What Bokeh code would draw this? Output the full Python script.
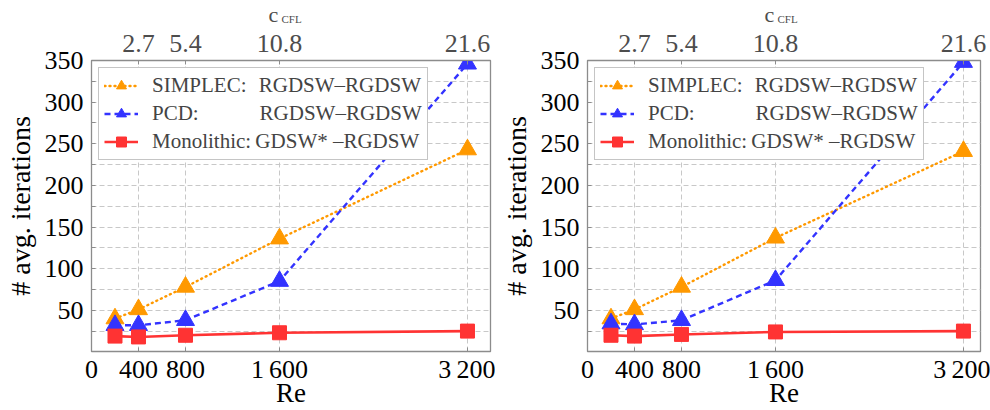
from bokeh.plotting import figure
from bokeh.models import (Range1d, FixedTicker, LinearAxis, Legend, LegendItem, Label)
from bokeh.layouts import row, column
from bokeh.embed import file_html
from bokeh.resources import INLINE

# ---- data ----
re_vals = [200, 400, 800, 1600, 3200]
top_ticks_re = [400, 800, 1600, 3200]
top_tick_labels = ["2.7", "5.4", "10.8", "21.6"]
bottom_ticks = [0, 400, 800, 1600, 3200]
bottom_tick_labels = ["0", "400", "800", "1\u2009600", "3\u2009200"]
y_ticks = [25, 50, 75, 100, 125, 150, 175, 200, 225, 250, 275, 300, 325, 350]

simplec_left = [40, 51, 78, 136, 243]
pcd_left = [32, 32, 38, 85, 346]
mono_left = [19, 18, 20, 23, 25]

simplec_right = [40, 51, 78, 137, 241]
pcd_right = [34, 33, 38, 86, 348]
mono_right = [20, 19, 21, 24, 25]

labels = ["SIMPLEC:\u2002\u200aRGDSW\u2013RGDSW",
          "PCD:\u2003\u2003\u2002\u2009\u2009RGDSW\u2013RGDSW",
          "Monolithic:\u2009GDSW* \u2013RGDSW"]

ORANGE = "#ff9900"
BLUE = "#3333ff"
RED = "#ff3333"
FONT = "Liberation Serif"
GRAY = "#4d4d4d"
FRAME = "#8c8c8c"


def make_header(frame_w, xmax, border_left, border_right):
    h = figure(frame_width=frame_w, frame_height=25, output_backend="svg",
               toolbar_location=None, x_range=Range1d(0, xmax), y_range=Range1d(0, 1),
               min_border_left=border_left, min_border_right=border_right,
               min_border_top=0, min_border_bottom=0,
               x_axis_location=None, y_axis_location=None)
    h.outline_line_color = None
    h.xgrid.visible = False
    h.ygrid.visible = False
    h.add_layout(Label(x=177, y=24, x_units="screen", y_units="screen", text="c",
                       text_font=FONT, text_font_size="22px", text_color=GRAY,
                       text_baseline="top"))
    h.add_layout(Label(x=190, y=13, x_units="screen", y_units="screen", text="CFL",
                       text_font=FONT, text_font_size="11px", text_color=GRAY,
                       text_baseline="top"))
    return h


def make_fig(simplec, pcd, mono, frame_w, xmax, border_left, border_right):
    p = figure(frame_width=frame_w, frame_height=291, output_backend="svg",
               toolbar_location=None, x_range=Range1d(0, xmax), y_range=Range1d(0.5, 350),
               min_border_left=border_left, min_border_right=border_right,
               min_border_top=35, min_border_bottom=59, background_fill_color="white")
    p.outline_line_color = FRAME
    p.outline_line_width = 1.3

    xa = p.xaxis[0]
    xa.ticker = FixedTicker(ticks=bottom_ticks)
    xa.major_label_overrides = {t: l for t, l in zip(bottom_ticks, bottom_tick_labels)}
    xa.axis_label = "Re"
    ya = p.yaxis[0]
    ya.ticker = FixedTicker(ticks=y_ticks)
    ya.major_label_overrides = {t: ("" if t % 50 else str(t)) for t in y_ticks}
    ya.axis_label = "# avg. iterations"

    ta = LinearAxis(ticker=FixedTicker(ticks=top_ticks_re),
                    major_label_overrides={t: l for t, l in zip(top_ticks_re, top_tick_labels)})
    p.add_layout(ta, "above")

    for ax in (xa, ya, ta):
        ax.axis_line_color = FRAME
        ax.major_tick_in = 4
        ax.major_tick_out = 0
        ax.minor_tick_in = 0
        ax.minor_tick_out = 0
        ax.major_tick_line_color = FRAME
        ax.major_label_text_font = FONT
        ax.major_label_text_font_size = "26px"
        ax.major_label_text_color = "black"
        ax.axis_label_text_font = FONT
        ax.axis_label_text_font_style = "normal"
        ax.axis_label_text_color = "black"
    ta.major_label_text_color = GRAY
    ta.major_label_standoff = 9
    xa.major_label_standoff = 3
    ya.major_label_standoff = 8
    xa.axis_label_text_font_size = "27px"
    xa.axis_label_standoff = -9
    ya.axis_label_text_font_size = "28px"
    ya.axis_label_standoff = 6

    p.xgrid.ticker = FixedTicker(ticks=top_ticks_re)
    p.ygrid.ticker = FixedTicker(ticks=y_ticks)
    for g in (p.xgrid, p.ygrid):
        g.grid_line_color = "#c8c8c8"
        g.grid_line_dash = "5 3"
        g.grid_line_width = 1

    l1 = p.line(re_vals, simplec, line_color=ORANGE, line_width=2.4, line_dash="1 4",
                line_cap="round")
    m1 = p.scatter(re_vals, simplec, marker="triangle", size=18, fill_color=ORANGE,
                   line_color=ORANGE)
    l2 = p.line(re_vals, pcd, line_color=BLUE, line_width=2.4, line_dash="6 4")
    m2 = p.scatter(re_vals, pcd, marker="triangle", size=18, fill_color=BLUE, line_color=BLUE)
    l3 = p.line(re_vals, mono, line_color=RED, line_width=2.6)
    m3 = p.scatter(re_vals, mono, marker="square", size=14, fill_color=RED, line_color=RED)

    legend = Legend(items=[LegendItem(label=labels[0], renderers=[l1, m1]),
                           LegendItem(label=labels[1], renderers=[l2, m2]),
                           LegendItem(label=labels[2], renderers=[l3, m3])],
                    location="top_left")
    legend.margin = 7
    legend.padding = 5
    legend.spacing = 3
    legend.glyph_width = 34
    legend.label_text_font = FONT
    legend.label_text_font_size = "21px"
    legend.label_height = 25
    legend.glyph_height = 25
    legend.label_standoff = 14
    legend.border_line_color = FRAME
    legend.border_line_width = 1.3
    legend.background_fill_alpha = 1
    p.add_layout(legend)
    return p


h1 = make_header(399, 3396, 91, 5)
p1 = make_fig(simplec_left, pcd_left, mono_left, 399, 3396, 91, 5)
h2 = make_header(393, 3345, 92, 10)
p2 = make_fig(simplec_right, pcd_right, mono_right, 393, 3345, 92, 10)
layout = row(column(h1, p1), column(h2, p2))

open("out.html", "w").write(file_html(layout, INLINE))
